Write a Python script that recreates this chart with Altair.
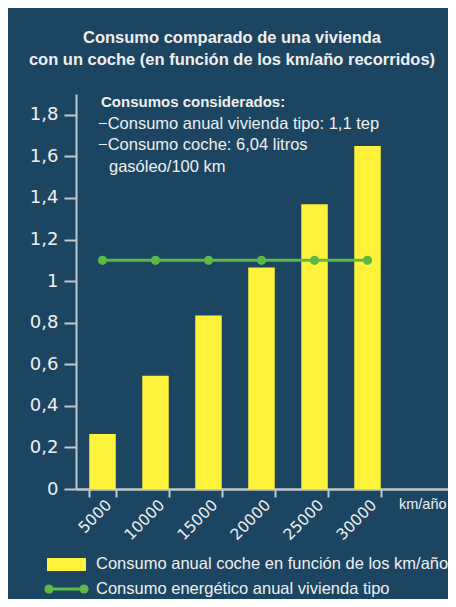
import altair as alt
import pandas as pd

km = ["5000", "10000", "15000", "20000", "25000", "30000"]
coche = [0.265, 0.545, 0.835, 1.065, 1.37, 1.65]
vivienda = [1.1, 1.1, 1.1, 1.1, 1.1, 1.1]
y_ticks = [0, 0.2, 0.4, 0.6, 0.8, 1.0, 1.2, 1.4, 1.6, 1.8]

title_lines = ["Consumo comparado de una vivienda",
               "con un coche (en función de los km/año recorridos)"]
note_head = "Consumos considerados:"
note_lines = ["\u2212Consumo anual vivienda tipo: 1,1 tep",
              "\u2212Consumo coche: 6,04 litros"]
note_cont = "gasóleo/100 km"
x_unit = "km/año"
legend_bar = "Consumo anual coche en función de los km/año"
legend_line = "Consumo energético anual vivienda tipo"

BG = "#1c4561"
YELLOW = "#fff23a"
GREEN = "#5cb946"
TXT = "#eef0f2"
AX = "#c3c8cc"
FONT = "Liberation Sans"
NUMFONT = "DejaVu Sans"

W, H = 372, 395

df = pd.DataFrame({"km": km, "coche": coche, "vivienda": vivienda})
one = pd.DataFrame({"k": [0]})

xenc = alt.X("km:N", sort=km,
             scale=alt.Scale(domain=km, paddingInner=0.5, paddingOuter=0.7594,
                             align=0.1646, round=False),
             axis=alt.Axis(title=None, labelAngle=-45, tickBand="extent", labelAlign="right",
                           labelBaseline="middle", labelPadding=5, labelFontSize=15.5,
                           labelColor=TXT, labelFont=NUMFONT, tickColor=AX, tickSize=8,
                           tickWidth=2, domainColor=AX, domainWidth=2.5, labelOffset=6))
yscale = alt.Scale(domain=[0, 1.9], nice=False)
yaxis = alt.Axis(title=None, values=y_ticks, grid=False,
                 labelExpr="replace(format(datum.value, '.1~f'), '.', ',')",
                 labelFontSize=18, labelColor=TXT, labelFont=NUMFONT, labelPadding=6,
                 tickColor=AX, tickSize=12, tickWidth=2, domainColor=AX, domainWidth=2)

bars = alt.Chart(df).mark_bar(color=YELLOW).encode(
    x=xenc, y=alt.Y("coche:Q", scale=yscale, axis=yaxis))
line = alt.Chart(df).mark_line(color=GREEN, strokeWidth=3,
                               point=alt.OverlayMarkDef(color=GREEN, filled=True, size=85, opacity=1)).encode(
    x=alt.X("km:N", sort=km), y=alt.Y("vivienda:Q", scale=yscale))

def txt(text, x, y, size=17, weight="normal", align="left", baseline="alphabetic", font=FONT):
    return alt.Chart(one).mark_text(align=align, baseline=baseline, fontSize=size,
                                    fontWeight=weight, color=TXT, font=font).encode(
        x=alt.value(x), y=alt.value(y), text=alt.value(text))

layers = [bars, line]
layers.append(txt(title_lines[0], 156, -51, size=16.5, weight="bold", align="center"))
layers.append(txt(title_lines[1], 156, -29, size=16.5, weight="bold", align="center"))
layers.append(txt(note_head, 25, 13, size=15, weight="bold"))
layers.append(txt(note_lines[0], 22, 35, size=16.5))
layers.append(txt(note_lines[1], 22, 56, size=16.5))
layers.append(txt(note_cont, 33, 78, size=16.5))
layers.append(txt(x_unit, 323, 411, size=14.5, baseline="middle"))

# legend
layers.append(alt.Chart(one).mark_rect(color=YELLOW).encode(
    x=alt.value(-29), x2=alt.value(10), y=alt.value(464), y2=alt.value(477)))
layers.append(txt(legend_bar, 20, 470, size=16.5, baseline="middle"))
layers.append(alt.Chart(one).mark_rule(color=GREEN, strokeWidth=3).encode(
    x=alt.value(-27), x2=alt.value(8), y=alt.value(495)))
layers.append(alt.Chart(one).mark_circle(color=GREEN, size=85, opacity=1).encode(
    x=alt.value(-27), y=alt.value(495)))
layers.append(alt.Chart(one).mark_circle(color=GREEN, size=85, opacity=1).encode(
    x=alt.value(8), y=alt.value(495)))
layers.append(txt(legend_line, 20, 495, size=16.5, baseline="middle"))

chart = alt.layer(*layers).properties(
    width=W, height=H,
    autosize=alt.AutoSizeParams(type="none"),
    padding={"left": 68, "top": 86, "right": 0, "bottom": 110},
    background=BG,
).configure_view(stroke=None)

chart.save("out.html", embed_options={"renderer": "svg", "actions": False})
